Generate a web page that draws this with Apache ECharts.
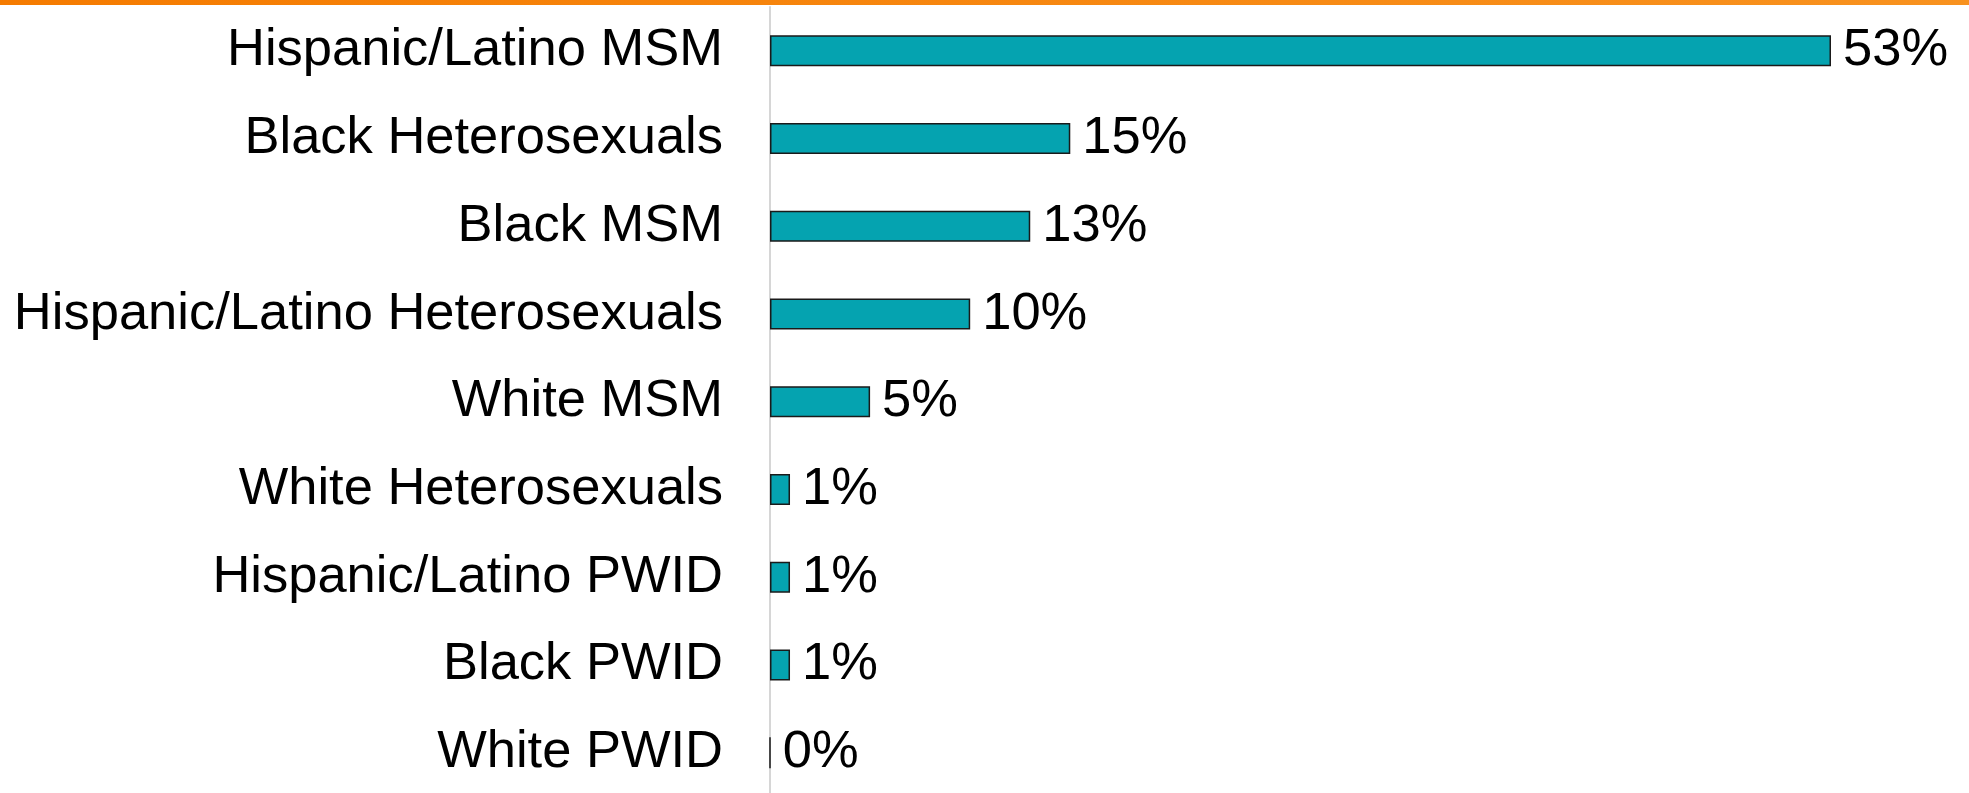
<!DOCTYPE html>
<html>
<head>
<meta charset="utf-8">
<title>Share by group</title>
<script src="https://cdn.jsdelivr.net/npm/echarts@6/dist/echarts.min.js"></script>
<style>
  html, body { margin: 0; padding: 0; background: #ffffff; }
  #chart { width: 1969px; height: 793px; }
</style>
</head>
<body>
<div id="chart"></div>
<script>
// Groups, listed top to bottom
const categories = [
  'Hispanic/Latino MSM',
  'Black Heterosexuals',
  'Black MSM',
  'Hispanic/Latino Heterosexuals',
  'White MSM',
  'White Heterosexuals',
  'Hispanic/Latino PWID',
  'Black PWID',
  'White PWID'
];

// Percentage for each group
const percentValues = [53, 15, 13, 10, 5, 1, 1, 1, 0];

const chart = echarts.init(document.getElementById('chart'), null, { renderer: 'canvas' });

const textFont = '"Liberation Sans", Arial, sans-serif';

chart.setOption({
  backgroundColor: '#ffffff',
  animation: false,
  graphic: [{
    type: 'rect',
    left: 0,
    top: 0,
    shape: { width: 1969, height: 5 },
    style: {
      fill: new echarts.graphic.LinearGradient(0, 0, 1, 0, [
        { offset: 0, color: '#F57B00' },
        { offset: 1, color: '#F8921F' }
      ])
    },
    z: 100
  }],
  grid: {
    left: 770,
    top: 7,
    width: 1061,
    height: 789.5,
    containLabel: false,
    outerBoundsMode: 'none'
  },
  xAxis: {
    type: 'value',
    min: 0,
    max: 53,
    show: false
  },
  yAxis: {
    type: 'category',
    data: categories,
    inverse: true,
    axisLine: { show: true, lineStyle: { color: '#d6d6d6', width: 2 } },
    axisTick: { show: false },
    splitLine: { show: false },
    axisLabel: {
      margin: 47,
      color: '#000000',
      fontFamily: textFont,
      fontSize: 52.5
    }
  },
  series: [{
    type: 'bar',
    data: percentValues,
    barWidth: 31,
    itemStyle: {
      color: '#05A3B0',
      borderColor: '#1a1a1a',
      borderWidth: 1.5
    },
    label: {
      show: true,
      position: 'right',
      distance: 12,
      color: '#000000',
      fontFamily: textFont,
      fontSize: 52.5,
      formatter: function (p) { return p.value + '%'; }
    }
  }]
});
</script>
</body>
</html>
